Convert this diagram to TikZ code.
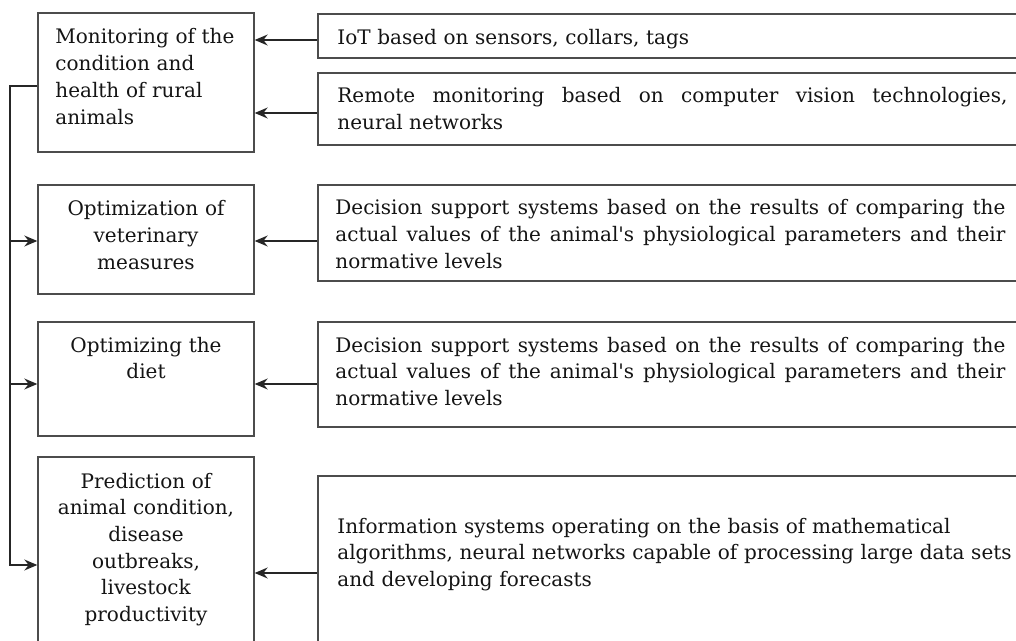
\documentclass[tikz,border=0pt]{standalone}
\usepackage{fontspec}
\setmainfont{DejaVu Serif}
\usetikzlibrary{arrows.meta}
\begin{document}
\begin{tikzpicture}[x=0.5pt,y=-0.5pt,
  box/.style={draw=black!70, line width=0.7pt, minimum width=108pt, inner sep=0pt},
  rbox/.style={draw=black!70, line width=0.7pt, minimum width=353pt, inner sep=0pt},
  txt/.style={inner sep=0pt, text=black!92, font=\fontsize{10pt}{13.35pt}\selectfont},
  ltxt/.style={txt, text width=91pt, align=center, anchor=base},
  rtxt/.style={txt, text width=335pt, anchor=base west},
  arr/.style={draw=black!85, line width=0.65pt, -{Stealth[length=6.5pt,width=5.5pt,inset=2.2pt]}},
]
\useasboundingbox (0,0) rectangle (1016,641);
\begin{scope}
\clip (0,0) rectangle (1016,641);
% left boxes
\node[box, minimum height=69.5pt] (L1) at (146,82.5) {};
\node[box, minimum height=54.5pt] (L2) at (146,239.5) {};
\node[box, minimum height=57pt] (L3) at (146,379) {};
\node[box, minimum height=101.5pt] (L4) at (146,558.5) {};
% right boxes
\node[rbox, minimum height=22pt] (R1) at (671,36) {};
\node[rbox, minimum height=36pt] (R2) at (671,109) {};
\node[rbox, minimum height=48pt] (R3) at (671,233) {};
\node[rbox, minimum height=52.5pt] (R4) at (671,374.5) {};
\node[rbox, minimum height=102pt] (R5) at (671,578) {};
\end{scope}
% texts
\node[txt, text width=91pt, align=left, anchor=base west] (T1) at (55,44) {Monitoring of the\\condition and\\health of rural\\animals};
\node[ltxt] (T2) at (146,216) {Optimization of\\veterinary\\measures};
\node[ltxt] (T3) at (146,352) {Optimizing the\\diet};
\node[ltxt] (T4) at (146,488) {Prediction of\\animal condition,\\disease\\outbreaks,\\livestock\\productivity};
\node[rtxt, align=left] (S1) at (337,45) {IoT based on sensors, collars, tags};
\node[rtxt, align=justify] (S2) at (337,103) {Remote monitoring based on computer vision technologies,\linebreak neural networks};
\node[rtxt, align=justify] (S3) at (335,215) {Decision support systems based on the results of comparing the\linebreak actual values of the animal\textquotesingle s physiological parameters and their\linebreak normative levels};
\node[rtxt, align=justify] (S4) at (335,352) {Decision support systems based on the results of comparing the\linebreak actual values of the animal\textquotesingle s physiological parameters and their\linebreak normative levels};
\node[rtxt, text width=360pt, align=left] (S5) at (337,533) {Information systems operating on the basis of mathematical\\algorithms, neural networks capable of processing large data sets\\and developing forecasts};
% connector levels
\coordinate (a1) at (0,40);
\coordinate (a2) at (0,113);
\coordinate (a3) at (0,241);
\coordinate (a4) at (0,384);
\coordinate (a5) at (0,573);
\coordinate (t0) at (0,86);
\coordinate (b4) at (0,565);
\coordinate (tx) at (10,0);
% connectors
\draw[arr] (R1.west |- a1) -- (L1.east |- a1);
\draw[arr] (R2.west |- a2) -- (L1.east |- a2);
\draw[arr] (R3.west |- a3) -- (L2.east |- a3);
\draw[arr] (R4.west |- a4) -- (L3.east |- a4);
\draw[arr] (R5.west |- a5) -- (L4.east |- a5);
\draw[arr] (L1.west |- t0) -| (tx |- b4) -- (L4.west |- b4);
\draw[arr] (tx |- a3) -- (L2.west |- a3);
\draw[arr] (tx |- a4) -- (L3.west |- a4);
\end{tikzpicture}
\end{document}
